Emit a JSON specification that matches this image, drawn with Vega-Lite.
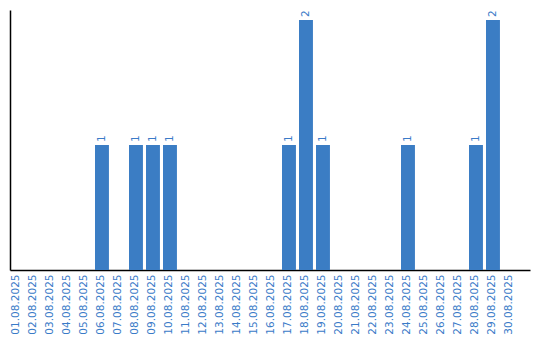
{
  "$schema": "https://vega.github.io/schema/vega-lite/v6.json",
  "width": 520,
  "height": 260,
  "autosize": {"type": "none"},
  "padding": {"left": 10, "top": 10, "right": 10, "bottom": 70},
  "background": "white",
  "config": {"view": {"stroke": null}, "font": "DejaVu Sans"},
  "data": {"values": [
    {"d": "01.08.2025", "v": 0}, {"d": "02.08.2025", "v": 0}, {"d": "03.08.2025", "v": 0},
    {"d": "04.08.2025", "v": 0}, {"d": "05.08.2025", "v": 0}, {"d": "06.08.2025", "v": 1},
    {"d": "07.08.2025", "v": 0}, {"d": "08.08.2025", "v": 1}, {"d": "09.08.2025", "v": 1},
    {"d": "10.08.2025", "v": 1}, {"d": "11.08.2025", "v": 0}, {"d": "12.08.2025", "v": 0},
    {"d": "13.08.2025", "v": 0}, {"d": "14.08.2025", "v": 0}, {"d": "15.08.2025", "v": 0},
    {"d": "16.08.2025", "v": 0}, {"d": "17.08.2025", "v": 1}, {"d": "18.08.2025", "v": 2},
    {"d": "19.08.2025", "v": 1}, {"d": "20.08.2025", "v": 0}, {"d": "21.08.2025", "v": 0},
    {"d": "22.08.2025", "v": 0}, {"d": "23.08.2025", "v": 0}, {"d": "24.08.2025", "v": 1},
    {"d": "25.08.2025", "v": 0}, {"d": "26.08.2025", "v": 0}, {"d": "27.08.2025", "v": 0},
    {"d": "28.08.2025", "v": 1}, {"d": "29.08.2025", "v": 2}, {"d": "30.08.2025", "v": 0}
  ]},
  "encoding": {
    "x": {
      "field": "d", "type": "ordinal", "sort": null,
      "scale": {"paddingInner": 0.18, "paddingOuter": 0.384, "align": 0},
      "axis": {
        "title": null, "labelAngle": -90, "labelAlign": "right", "labelBaseline": "middle",
        "labelFont": "DejaVu Sans", "labelFontSize": 10.5, "labelColor": "#3a7bc8", "labelPadding": 4,
        "labelOffset": -1,
        "ticks": false, "domainColor": "#000000", "domainWidth": 1.5, "grid": false
      }
    },
    "y": {
      "field": "v", "type": "quantitative",
      "scale": {"domain": [0, 2.08], "nice": false},
      "axis": {"title": null, "labels": false, "ticks": false, "grid": false, "domainColor": "#000000", "domainWidth": 1.5}
    }
  },
  "layer": [
    {"mark": {"type": "bar", "color": "#3b7dc4"}},
    {
      "transform": [{"filter": "datum.v > 0"}],
      "mark": {"type": "text", "angle": 270, "align": "left", "baseline": "middle", "dx": 3, "font": "DejaVu Sans", "fontSize": 10.5, "color": "#3a7bc8"},
      "encoding": {"text": {"field": "v", "type": "quantitative"}}
    }
  ]
}
